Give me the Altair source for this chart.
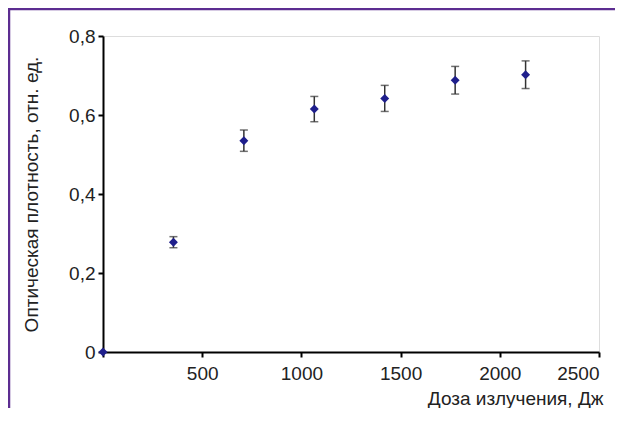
import altair as alt
import pandas as pd

dose = [0, 355, 710, 1065, 1420, 1775, 2130]
density = [0.0, 0.278, 0.535, 0.615, 0.642, 0.688, 0.702]
err = [0.0, 0.014, 0.027, 0.032, 0.033, 0.035, 0.035]

df = pd.DataFrame({"dose": dose, "od": density, "err": err})
df["lo"] = df["od"] - df["err"]
df["hi"] = df["od"] + df["err"]
dfe = df[df["err"] > 0]

xs = alt.Scale(domain=[0, 2500], nice=False)
ys = alt.Scale(domain=[0, 0.8], nice=False)

FONT = "Liberation Sans"
FS = 19
W, H = 496, 316
PAD = {"left": 95, "top": 28, "right": 16, "bottom": 56}

x_axis = alt.Axis(
    values=[0, 500, 1000, 1500, 2000, 2500],
    labelExpr="datum.value == 0 ? '' : datum.label",
    format="d",
    grid=False,
    domainColor="black", domainWidth=2,
    tickColor="black", tickWidth=2, tickSize=5,
    labelFont=FONT, labelFontSize=FS, labelColor="#222222",
    labelPadding=7,
    title="Доза излучения, Дж",
    titleFont=FONT, titleFontSize=FS, titleFontWeight="normal",
    titleColor="#222222", titleAnchor="end", titleAlign="right",
    titleX=500, titleY=52, titleBaseline="alphabetic",
)
y_axis = alt.Axis(
    values=[0, 0.2, 0.4, 0.6, 0.8],
    labelExpr="datum.value == 0 ? '0' : replace(format(datum.value, '.1f'), '.', ',')",
    grid=False,
    domainColor="black", domainWidth=2,
    tickColor="black", tickWidth=2, tickSize=5,
    labelFont=FONT, labelFontSize=FS, labelColor="#222222",
    labelPadding=3,
    title="Оптическая плотность, отн. ед.",
    titleFont=FONT, titleFontSize=FS, titleFontWeight="normal",
    titleColor="#222222", titleAngle=270, titleX=-62, titleY=158,
    titleBaseline="bottom", titleAlign="center",
)

one = pd.DataFrame({"a": [0]})
BORDER = "#5c2d91"
top_line = alt.Chart(one).mark_rule(color=BORDER, strokeWidth=2.5, clip=False).encode(
    x=alt.value(-95), x2=alt.value(W + PAD["right"]), y=alt.value(-27)
)
left_line = alt.Chart(one).mark_rule(color=BORDER, strokeWidth=2.5, clip=False).encode(
    x=alt.value(-94), y=alt.value(-28), y2=alt.value(H + PAD["bottom"])
)

rules = alt.Chart(dfe).mark_rule(color="#333333", strokeWidth=1.5).encode(
    x=alt.X("dose:Q", scale=xs, axis=x_axis),
    y=alt.Y("lo:Q", scale=ys, axis=y_axis),
    y2="hi:Q",
)
caps_lo = alt.Chart(dfe).mark_tick(
    color="#333333", orient="horizontal", size=8, thickness=1.5
).encode(x=alt.X("dose:Q", scale=xs), y=alt.Y("lo:Q", scale=ys))
caps_hi = alt.Chart(dfe).mark_tick(
    color="#333333", orient="horizontal", size=8, thickness=1.5
).encode(x=alt.X("dose:Q", scale=xs), y=alt.Y("hi:Q", scale=ys))

points = alt.Chart(df).mark_point(
    shape="diamond", filled=True, color="#1f1f8c", size=80, opacity=1, clip=False
).encode(x=alt.X("dose:Q", scale=xs), y=alt.Y("od:Q", scale=ys))

chart = alt.layer(top_line, left_line, rules, caps_lo, caps_hi, points).properties(
    width=W, height=H,
    autosize=alt.AutoSizeParams(type="none"),
    padding=PAD,
).configure_view(stroke=None).configure(background="white")

chart.save("out.html", embed_options={"renderer": "svg", "actions": False})
